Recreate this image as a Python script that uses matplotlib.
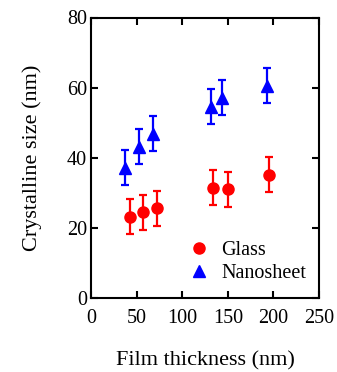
import numpy as np
import matplotlib
matplotlib.use("Agg")
import matplotlib.pyplot as plt
from matplotlib.lines import Line2D

# 讀圖估計值
glass_x = [43, 57, 72, 134, 150, 195]
glass_y = [23.2, 24.4, 25.6, 31.5, 31.0, 35.1]
glass_err = [5, 5, 5, 5, 5, 5]

nano_x = [37, 53, 68, 132, 144, 193]
nano_y = [37.2, 43.2, 46.8, 54.5, 57.1, 60.5]
nano_err = [5, 5, 5, 5, 5, 5]

x_ticks = [0, 50, 100, 150, 200, 250]
y_ticks = [0, 20, 40, 60, 80]

RED = (1, 0, 0)
BLUE = (0, 0, 1)

plt.rcParams['font.family'] = ['Liberation Serif', 'DejaVu Serif']

fig = plt.figure(figsize=(3.37, 3.72), dpi=100)
ax = fig.add_axes([91 / 337, 1 - 298 / 372, 228 / 337, 280.5 / 372])

ax.errorbar(glass_x, glass_y, yerr=glass_err, fmt='o', color=RED,
            ms=8, elinewidth=1.6, capsize=2.9, capthick=1.6)
ax.errorbar(nano_x, nano_y, yerr=nano_err, fmt='^', color=BLUE,
            ms=8, elinewidth=1.6, capsize=2.9, capthick=1.6)

ax.set_xlim(0, 250)
ax.set_ylim(0, 80)
ax.set_xticks(x_ticks)
ax.set_yticks(y_ticks)
ax.tick_params(direction='in', top=True, right=True, length=5, width=1.5,
               labelsize=14.5)
ax.tick_params(axis='x', pad=8)
ax.tick_params(axis='y', pad=3)
for s in ax.spines.values():
    s.set_linewidth(1.5)

ax.set_xlabel("Film thickness (nm)", fontsize=16, labelpad=17)
ax.set_ylabel("Crystalline size (nm)", fontsize=16, labelpad=18)

# 圖例只放 marker, 不帶誤差棒
handles = [Line2D([], [], ls='none', marker='o', color=RED, ms=8),
           Line2D([], [], ls='none', marker='^', color=BLUE, ms=8)]
ax.legend(handles, ["Glass", "Nanosheet"], loc='lower left',
          bbox_to_anchor=(0.42, 0.055), frameon=False, fontsize=14.5,
          handletextpad=0.5, handlelength=1.2, borderaxespad=0.0,
          borderpad=0.0, labelspacing=0.18)

fig.savefig("out.png", dpi=100)
